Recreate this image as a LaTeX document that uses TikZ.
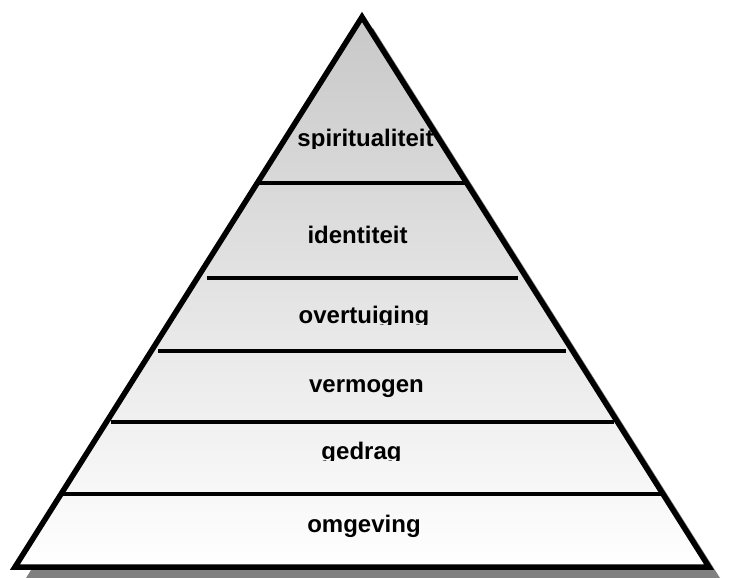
\documentclass[tikz,border=0pt]{standalone}
\usepackage{fontspec}
\setmainfont{Liberation Sans}
\definecolor{shadowgray}{RGB}{128,128,128}
\definecolor{topgray}{RGB}{200,200,200}
\tikzset{
	divider/.style={line width=4.5bp},
	outline/.style={line width=5.5bp, line join=miter},
	lbl/.style={font=\bfseries\fontsize{24bp}{28bp}\selectfont, anchor=base, inner sep=0pt}
}

\begin{document}
\begin{tikzpicture}[x=1bp,y=-1bp]
				\useasboundingbox (0,0) rectangle (737,578);
				\coordinate (apex) at (362,17);
				\coordinate (bl) at (15,567);
				\coordinate (br) at (709,567);
				
				\fill[shadowgray] ([shift={(11,11)}]apex) -- ([shift={(11,11)}]bl) -- ([shift={(11,11)}]br) -- cycle;
				\shade[top color=topgray, bottom color=white] (apex) -- (bl) -- (br) -- cycle;
				
				\coordinate (d1l) at (257,183);
				\coordinate (d1r) at (467,183);
				\coordinate (d2l) at (207,278);
				\coordinate (d2r) at (518,278);
				\coordinate (d3l) at (158,351);
				\coordinate (d3r) at (566,351);
				\coordinate (d4l) at (111,422);
				\coordinate (d4r) at (614,422);
				\coordinate (d5l) at (61,494);
				\coordinate (d5r) at (663,494);
				\draw[divider] (d1l) -- (d1r);
				\draw[divider] (d2l) -- (d2r);
				\draw[divider] (d3l) -- (d3r);
				\draw[divider] (d4l) -- (d4r);
				\draw[divider] (d5l) -- (d5r);
				
				\draw[outline] (apex) -- (bl) -- (br) -- cycle;
				
				\begin{scope}
					\clip (280,110) rectangle (450,148.5);
					\node[lbl] (spiritualiteit) at (365.5,147) {spiritualiteit};
				\end{scope}
				\node[lbl] (identiteit) at (357.5,243) {identiteit};
				\begin{scope}
					\clip (280,290) rectangle (450,324.5);
					\node[lbl] (overtuiging) at (364,323.5) {overtuiging};
				\end{scope}
				\begin{scope}
					\clip (280,360) rectangle (450,397);
					\node[lbl] (vermogen) at (366.5,392) {vermogen};
				\end{scope}
				\begin{scope}
					\clip (280,430) rectangle (450,460.5);
					\node[lbl] (gedrag) at (361.5,459.5) {gedrag};
				\end{scope}
				\node[lbl] (omgeving) at (364,532) {omgeving};
\end{tikzpicture}
\end{document}
